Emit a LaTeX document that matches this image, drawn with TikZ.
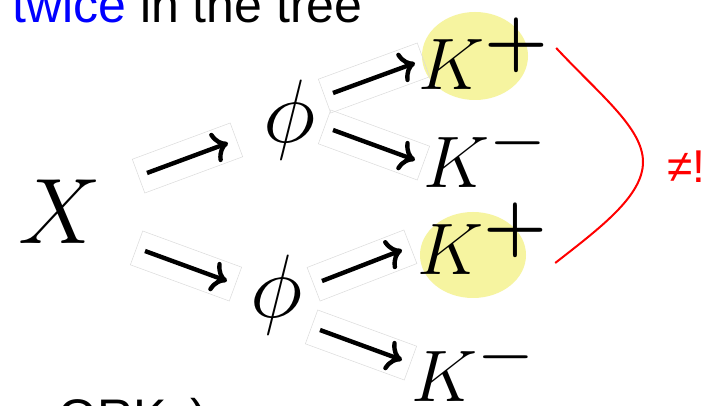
\RequirePackage{fix-cm}
\documentclass[tikz,border=0pt]{standalone}
\usepackage{bm}
\usepackage[no-math]{fontspec}
\setmainfont{Liberation Sans}
\usetikzlibrary{arrows.meta,calc,shapes.geometric}
\definecolor{hlyellow}{RGB}{246,244,160}
\definecolor{txtblue}{RGB}{0,0,255}
\definecolor{txtred}{RGB}{255,0,0}
\tikzset{
  arr/.style={line width=4.4pt,-{Computer Modern Rightarrow[length=15pt,width=31pt]}},
  boxline/.style={draw=black!14,line width=0.5pt},
  hl/.style={ellipse,fill=hlyellow,draw=none,inner sep=0},
  bigmath/.style={inner sep=0},
}
\newcommand\arrowbox[2]{%
  \draw[boxline] ($(#1)!-9pt!(#2)!18pt!90:(#2)$) -- ($(#2)!-9pt!(#1)!18pt!-90:(#1)$)
    -- ($(#2)!-9pt!(#1)!18pt!90:(#1)$) -- ($(#1)!-9pt!(#2)!18pt!-90:(#2)$) -- cycle;
  \draw[arr] (#1) -- (#2);}
\begin{document}
\begin{tikzpicture}[x=1pt,y=-1pt]
\useasboundingbox (0,0) rectangle (713,406);
\fill[white] (0,0) rectangle (713,406);
% highlights
\node[hl,minimum width=106pt,minimum height=88pt] (hl1) at (475,56) {};
\node[hl,minimum width=106pt,minimum height=86pt] (hl2) at (473,255) {};
% texts
\node[anchor=base west,inner sep=0] (title) at (12,23) {\fontsize{50}{50}\selectfont\textcolor{txtblue}{twice} in the tree};
\node[anchor=base west,inner sep=0] (bottom) at (58,434) {\fontsize{50}{50}\selectfont ORK\hspace{24pt})};
% main nodes
\node[bigmath,anchor=center] (X) at (60,212) {\fontsize{93}{93}\selectfont$X$};
\node[bigmath,anchor=base] (phi1) at (290,143) {\fontsize{90}{90}\selectfont$\phi$};
\node[bigmath,anchor=base] (phi2) at (277,318) {\fontsize{90}{90}\selectfont$\phi$};
\node[bigmath,anchor=base west] (kp1) at (418,90) {\fontsize{73}{73}\selectfont$K^{\bm{\textstyle+}}$};
\node[bigmath,anchor=base west] (km1) at (423,188) {\fontsize{73}{73}\selectfont$K^{\textstyle-}$};
\node[bigmath,anchor=base west] (kp2) at (417,275) {\fontsize{73}{73}\selectfont$K^{\bm{\textstyle+}}$};
\node[bigmath,anchor=base west] (km2) at (411,402) {\fontsize{73}{73}\selectfont$K^{\textstyle-}$};
% arrow ends
\coordinate (X-up) at ($(X)+(87,-39)$);
\coordinate (X-dn) at ($(X)+(85,39)$);
\coordinate (phi1-in) at ($(phi1.base)+(-62,0)$);
\coordinate (phi1-up) at ($(phi1.base)+(43,-50)$);
\coordinate (phi1-dn) at ($(phi1.base)+(43,-13)$);
\coordinate (phi2-in) at ($(phi2.base)+(-50,-37)$);
\coordinate (phi2-up) at ($(phi2.base)+(45,-37)$);
\coordinate (phi2-dn) at ($(phi2.base)+(43,12)$);
\coordinate (kp1-in) at ($(kp1.base west)+(-3,-27)$);
\coordinate (km1-in) at ($(km1.base west)+(-8,-28)$);
\coordinate (kp2-in) at ($(kp2.base west)+(-15,-25)$);
\coordinate (km2-in) at ($(km2.base west)+(-9,-42)$);
\arrowbox{X-up}{phi1-in}
\arrowbox{X-dn}{phi2-in}
\arrowbox{phi1-up}{kp1-in}
\arrowbox{phi1-dn}{km1-in}
\arrowbox{phi2-up}{kp2-in}
\arrowbox{phi2-dn}{km2-in}
% bracket
\coordinate (br1) at ($(hl1.east)+(28,-8)$);
\coordinate (br2) at ($(hl2.east)+(29,8)$);
\draw[txtred,line width=2pt] (br1) .. controls (600,95) and (643,128) .. (643,162)
  .. controls (643,196) and (600,228) .. (br2);
\node[anchor=base west,inner sep=0,text=txtred] (neq) at (667,183) {\fontsize{46}{46}\selectfont ≠!};
\end{tikzpicture}
\end{document}
